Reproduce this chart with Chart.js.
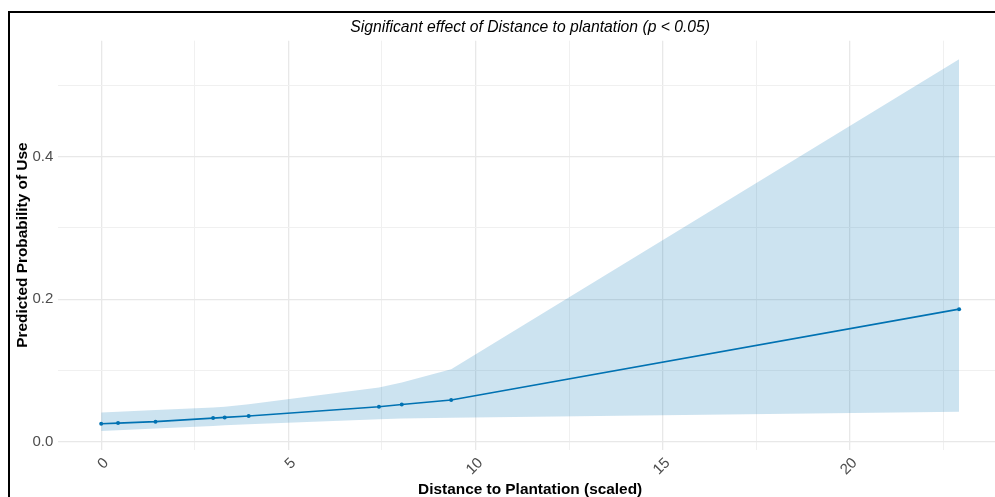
<!DOCTYPE html>
<html>
<head>
<meta charset="utf-8">
<script src="https://cdn.jsdelivr.net/npm/chart.js@4.4.1/dist/chart.umd.min.js"></script>
<style>
  html, body { margin: 0; padding: 0; background: #fff; overflow: hidden; width: 995px; height: 497px; }
  #wrap { position: relative; width: 995px; height: 497px; overflow: hidden; }
  canvas { position: absolute; left: 0; top: 0; }
  #frame { position: absolute; left: 8px; top: 11px; width: 2000px; height: 1000px;
           border-left: 2px solid #000; border-top: 2px solid #000; pointer-events: none; }
</style>
</head>
<body>
<div id="wrap">
  <canvas id="c" width="1006" height="497"></canvas>
  <div id="frame"></div>
</div>
<script>
// ---- data ----
const distance  = [0, 0.45, 1.45, 2.99, 3.30, 3.94, 7.42, 8.03, 9.35, 22.92];
const predicted = [0.025, 0.026, 0.028, 0.033, 0.034, 0.036, 0.049, 0.052, 0.0585, 0.186];
const upperCI   = [0.041, 0.042, 0.0445, 0.048, 0.049, 0.0525, 0.076, 0.083, 0.1016, 0.537];
const lowerCI   = [0.015, 0.016, 0.0185, 0.022, 0.0228, 0.0245, 0.0315, 0.0325, 0.0335, 0.042];

const xTickValues = [0, 2.5, 5, 7.5, 10, 12.5, 15, 17.5, 20, 22.5];
const xTickLabels = ['0', '', '5', '', '10', '', '15', '', '20', ''];
const yTickValues = [0, 0.1, 0.2, 0.3, 0.4, 0.5];
const yTickLabels = ['0.0', '', '0.2', '', '0.4', ''];

const titleText  = 'Significant effect of Distance to plantation (p < 0.05)';
const xTitleText = 'Distance to Plantation (scaled)';
const yTitleText = 'Predicted Probability of Use';

// ---- helpers ----
const FONT = "'Liberation Sans', Arial, Helvetica, sans-serif";
const pts = (ys) => distance.map((x, i) => ({ x: x, y: ys[i] }));
const isMajor = (labels, idx) => labels[idx] !== '';
const gridColor = (labels) => (ctx) => (ctx.index !== undefined && isMajor(labels, ctx.index)) ? '#e8e8e8' : '#f0f0f0';
const gridWidth = (labels) => (ctx) => (ctx.index !== undefined && isMajor(labels, ctx.index)) ? 1.3 : 1;

// ggplot-style 5% expansion
const xMin = Math.min(...distance), xMax = Math.max(...distance);
const xPad = (xMax - xMin) * 0.05;
const yLo = Math.min(...lowerCI), yHi = Math.max(...upperCI);
const yPad = (yHi - yLo) * 0.05;

new Chart(document.getElementById('c').getContext('2d'), {
  type: 'line',
  data: {
    datasets: [
      {
        label: 'Predicted',
        data: pts(predicted),
        borderColor: '#0072B2',
        backgroundColor: '#0072B2',
        borderWidth: 1.6,
        pointRadius: 2,
        pointBorderWidth: 0,
        tension: 0,
        fill: false
      },
      {
        label: 'Upper',
        data: pts(upperCI),
        borderColor: 'rgba(0,0,0,0)',
        borderWidth: 0,
        pointRadius: 0,
        tension: 0,
        backgroundColor: 'rgba(0,114,178,0.2)',
        fill: '+1'
      },
      {
        label: 'Lower',
        data: pts(lowerCI),
        borderColor: 'rgba(0,0,0,0)',
        borderWidth: 0,
        pointRadius: 0,
        tension: 0,
        fill: false
      }
    ]
  },
  options: {
    responsive: false,
    animation: false,
    events: [],
    layout: { padding: 0 },
    plugins: {
      legend: { display: false },
      tooltip: { enabled: false },
      title: {
        display: true,
        text: titleText,
        fullSize: false,
        color: '#000',
        font: { family: FONT, size: 15.7, style: 'italic', weight: 'normal', lineHeight: 1.2 },
        padding: { top: 18.1, bottom: 3.7 }
      }
    },
    scales: {
      x: {
        type: 'linear',
        min: xMin - xPad,
        max: xMax + xPad,
        afterBuildTicks: (s) => { s.ticks = xTickValues.map(v => ({ value: v })); },
        afterFit: (s) => { s.height = 47.5; s.paddingLeft = 0; s.paddingRight = 0; },
        border: { display: false },
        grid: { drawTicks: false, color: gridColor(xTickLabels), lineWidth: gridWidth(xTickLabels) },
        ticks: {
          autoSkip: false,
          minRotation: 45,
          maxRotation: 45,
          padding: 4.7,
          labelOffset: 5,
          color: '#4d4d4d',
          font: { family: FONT, size: 15 },
          callback: (v, i) => xTickLabels[i]
        },
        title: {
          display: true,
          text: xTitleText,
          color: '#000',
          font: { family: FONT, size: 15.4, weight: 'bold', lineHeight: 1.0 },
          padding: { top: 0, bottom: 0 }
        }
      },
      y: {
        type: 'linear',
        min: yLo - yPad,
        max: yHi + yPad,
        afterBuildTicks: (s) => { s.ticks = yTickValues.map(v => ({ value: v })); },
        afterFit: (s) => { s.width = 58.3; s.paddingTop = 0; s.paddingBottom = 0; },
        border: { display: false },
        grid: { drawTicks: false, color: gridColor(yTickLabels), lineWidth: gridWidth(yTickLabels) },
        ticks: {
          padding: 5,
          color: '#4d4d4d',
          font: { family: FONT, size: 15 },
          callback: (v, i) => yTickLabels[i]
        },
        title: {
          display: true,
          text: yTitleText,
          color: '#000',
          font: { family: FONT, size: 15.4, weight: 'bold', lineHeight: 1.2 },
          padding: { top: 13.3, bottom: 0 }
        }
      }
    }
  }
});
</script>
</body>
</html>
